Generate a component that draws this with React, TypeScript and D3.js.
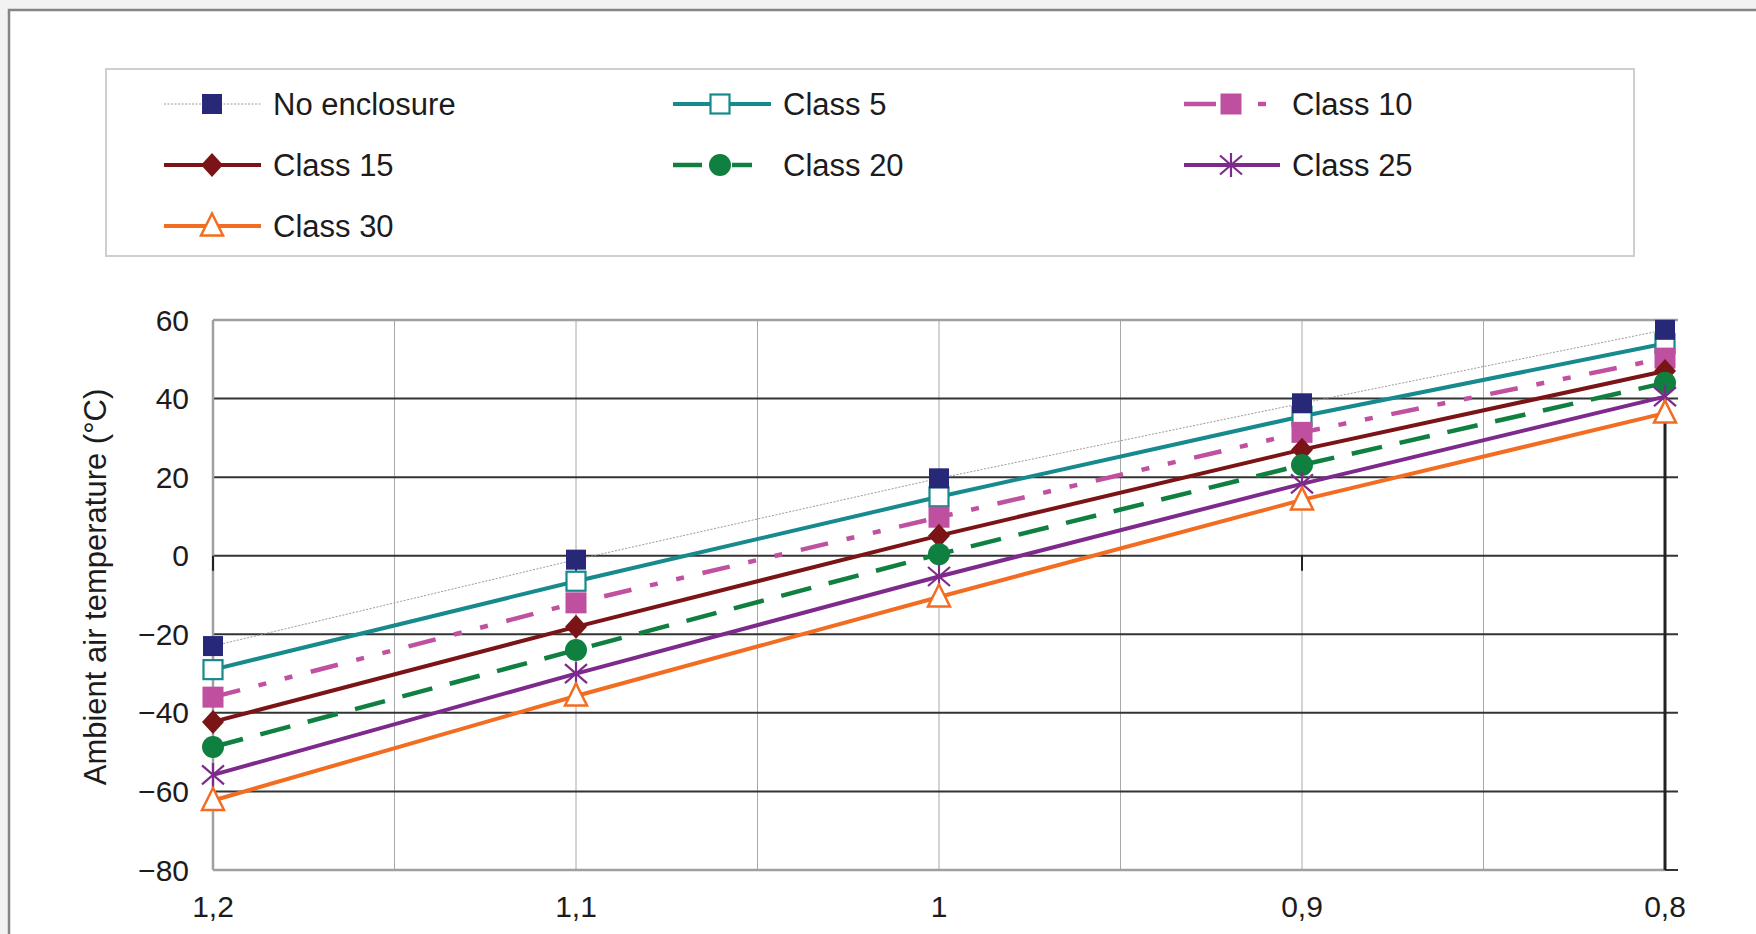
import React from "react";
import * as d3 from "d3";

const xValues = [1.2, 1.1, 1.0, 0.9, 0.8];
const xTickLabels = ["1,2", "1,1", "1", "0,9", "0,8"];
const yTicks = [60, 40, 20, 0, -20, -40, -60, -80];
const xGrid = [1.15, 1.1, 1.05, 1.0, 0.95, 0.9, 0.85];

const noEnclosure = [-23, -1, 19.7, 38.8, 57.5];
const class5 = [-29, -6.5, 15, 35.5, 54];
const class10 = [-36, -12, 9.8, 31.4, 50.3];
const class15 = [-42.3, -18.1, 5.1, 27, 47];
const class20 = [-48.7, -24, 0.4, 23.1, 44];
const class25 = [-55.8, -30, -5.3, 18.3, 40.5];
const class30 = [-62.3, -35.7, -10.5, 14.2, 36.3];

const seriesNames = ["No enclosure", "Class 5", "Class 10", "Class 15", "Class 20", "Class 25", "Class 30"];
const seriesValues = [noEnclosure, class5, class10, class15, class20, class25, class30];

type Style = { color: string; width: number; dash?: string; legendDash?: string; marker: string };
const styles: Style[] = [
  { color: "#9a9a9a", width: 1, dash: "2 1.5", marker: "square-navy" },
  { color: "#168a8c", width: 4, marker: "square-open" },
  { color: "#c050a0", width: 4.5, dash: "28 19 8 19 8 19", legendDash: "32 42 8 200", marker: "square-pink" },
  { color: "#7b1416", width: 4, marker: "diamond" },
  { color: "#0f8040", width: 4.5, dash: "31 18", legendDash: "29 30 20 200", marker: "circle" },
  { color: "#7d2a8c", width: 4, marker: "star" },
  { color: "#f26d21", width: 4, marker: "triangle" },
];

const FONT = "'Liberation Sans', Arial, Helvetica, sans-serif";
const TEXT = "#1d1b1c";

function Marker({ kind, cx, cy }: { kind: string; cx: number; cy: number }) {
  switch (kind) {
    case "square-navy":
      return <rect x={cx - 10} y={cy - 10} width={20} height={20} fill="#272878" />;
    case "square-open":
      return <rect x={cx - 9.5} y={cy - 9.5} width={19} height={19} fill="#ffffff" stroke="#168a8c" strokeWidth={2.2} />;
    case "square-pink":
      return <rect x={cx - 10.5} y={cy - 10.5} width={21} height={21} fill="#bf4f9f" />;
    case "diamond":
      return (
        <path d={`M${cx},${cy - 12}L${cx + 11},${cy}L${cx},${cy + 12}L${cx - 11},${cy}Z`} fill="#7b1416" />
      );
    case "circle":
      return <circle cx={cx} cy={cy} r={11} fill="#0f8040" />;
    case "star":
      return (
        <g stroke="#7d2a8c" strokeWidth={2.2}>
          <line x1={cx} y1={cy - 12} x2={cx} y2={cy + 12} />
          <line x1={cx - 11} y1={cy - 9.5} x2={cx + 11} y2={cy + 9.5} />
          <line x1={cx - 11} y1={cy + 9.5} x2={cx + 11} y2={cy - 9.5} />
        </g>
      );
    case "triangle":
      return (
        <path
          d={`M${cx},${cy - 12.5}L${cx + 11},${cy + 9.5}L${cx - 11},${cy + 9.5}Z`}
          fill="#ffffff"
          stroke="#f26d21"
          strokeWidth={2.5}
          strokeLinejoin="miter"
        />
      );
    default:
      return null;
  }
}

export default function App() {
  const W = 1756;
  const H = 934;
  const left = 213;
  const right = 1665;
  const top = 320;
  const bottom = 870;

  const x = d3.scaleLinear().domain([1.2, 0.8]).range([left, right]);
  const y = d3.scaleLinear().domain([-80, 60]).range([bottom, top]);

  const line = d3
    .line<[number, number]>()
    .x((d) => x(d[0]))
    .y((d) => y(d[1]));

  const legendCols = [
    { l1: 164, l2: 261, m: 212, t: 273 },
    { l1: 673, l2: 771, m: 720, t: 783 },
    { l1: 1184, l2: 1280, m: 1231, t: 1292 },
  ];
  const legendRows = [104, 165, 226];

  const markerOrder = [1, 2, 3, 4, 5, 6, 0];

  return (
    <svg
      width={W}
      height={H}
      style={{ position: "absolute", left: 0, top: 0, display: "block" }}
      fontFamily={FONT}
    >
      <rect x={0} y={0} width={W} height={H} fill="#f2f2f2" />
      <rect x={9} y={10} width={1800} height={1000} fill="#ffffff" stroke="#858585" strokeWidth={2.5} />

      {/* Legend */}
      <rect x={106} y={69} width={1528} height={187} fill="#ffffff" stroke="#cfcfcf" strokeWidth={2} />
      {seriesNames.map((name, i) => {
        const col = legendCols[i % 3];
        const ry = legendRows[Math.floor(i / 3)];
        const s = styles[i];
        return (
          <g key={name}>
            <line
              x1={col.l1}
              x2={col.l2}
              y1={ry}
              y2={ry}
              stroke={s.color}
              strokeWidth={s.width}
              strokeDasharray={s.legendDash ?? s.dash}
            />
            <Marker kind={s.marker} cx={col.m} cy={ry} />
            <text x={col.t} y={ry} dy="0.35em" fontSize={31} fill={TEXT}>
              {name}
            </text>
          </g>
        );
      })}

      {/* vertical grid */}
      {xGrid.map((v) => (
        <line key={"vg" + v} x1={x(v)} x2={x(v)} y1={top} y2={bottom} stroke="#a8a8a8" strokeWidth={1} />
      ))}
      {/* horizontal grid */}
      {yTicks
        .filter((v) => v !== 60 && v !== -80)
        .map((v) => (
          <line key={"hg" + v} x1={left} x2={right + 13} y1={y(v)} y2={y(v)} stroke="#333333" strokeWidth={2} />
        ))}
      <line x1={left} x2={right + 13} y1={y(60)} y2={y(60)} stroke="#a0a0a0" strokeWidth={2.5} />
      <line x1={left} x2={right} y1={y(-80)} y2={y(-80)} stroke="#a0a0a0" strokeWidth={2.5} />
      <line x1={right} x2={right + 13} y1={y(-80)} y2={y(-80)} stroke="#333333" strokeWidth={2} />
      <line x1={left} x2={left} y1={top} y2={bottom} stroke="#a0a0a0" strokeWidth={2.5} />
      {/* x axis ticks at 0 */}
      {xValues.map((v) => (
        <line key={"xt" + v} x1={x(v)} x2={x(v)} y1={y(0)} y2={y(0) + 15} stroke="#222222" strokeWidth={2} />
      ))}
      {/* right axis */}
      <line x1={right} x2={right} y1={top} y2={bottom} stroke="#222222" strokeWidth={3} />

      {/* series lines */}
      {seriesValues.map((vals, i) => (
        <path
          key={"ln" + i}
          d={line(vals.map((v, j) => [xValues[j], v] as [number, number])) || ""}
          fill="none"
          stroke={styles[i].color}
          strokeWidth={styles[i].width}
          strokeDasharray={styles[i].dash}
        />
      ))}
      {/* markers */}
      {markerOrder.map((i) =>
        seriesValues[i].map((v, j) => (
          <Marker key={"mk" + i + "-" + j} kind={styles[i].marker} cx={x(xValues[j])} cy={y(v)} />
        ))
      )}

      {/* y tick labels */}
      {yTicks.map((v) => (
        <text key={"yl" + v} x={189} y={y(v)} dy="0.35em" textAnchor="end" fontSize={30} fill={TEXT}>
          {v < 0 ? "\u2212" + Math.abs(v) : String(v)}
        </text>
      ))}
      {/* x tick labels */}
      {xValues.map((v, j) => (
        <text key={"xl" + v} x={x(v)} y={917} textAnchor="middle" fontSize={30} fill={TEXT}>
          {xTickLabels[j]}
        </text>
      ))}
      {/* y axis title */}
      <text
        transform="translate(95,587) rotate(-90)"
        textAnchor="middle"
        dy="0.35em"
        fontSize={31}
        fill={TEXT}
      >
        Ambient air temperature (°C)
      </text>
    </svg>
  );
}
